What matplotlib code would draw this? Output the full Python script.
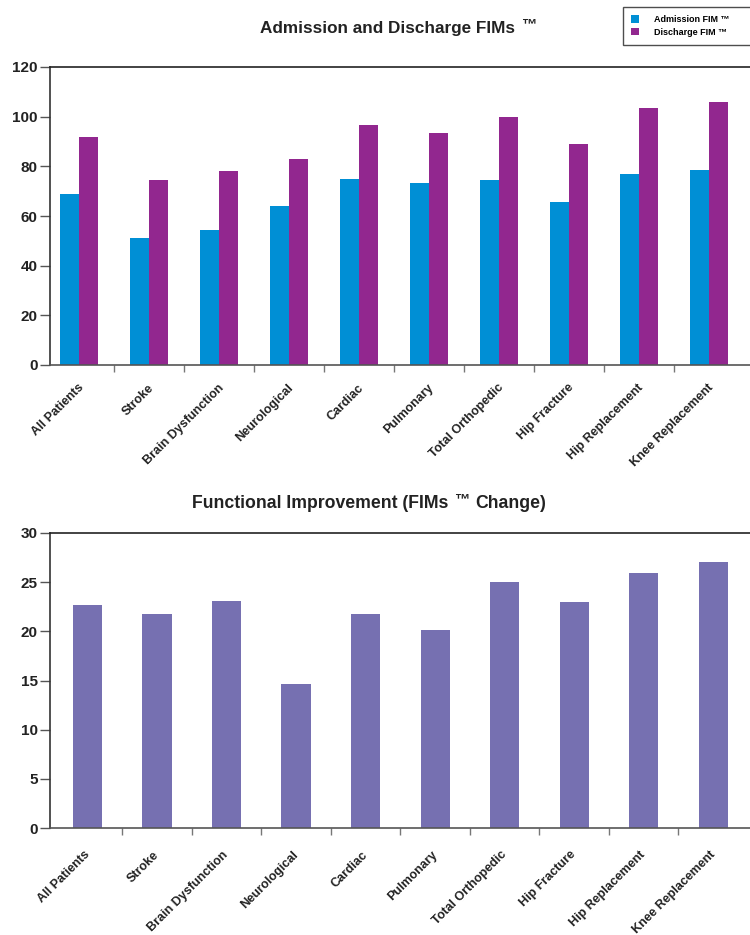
import numpy as np
import matplotlib
matplotlib.use("Agg")
import matplotlib.pyplot as plt

plt.rcParams['font.family'] = ['Liberation Sans', 'DejaVu Sans']
plt.rcParams['font.weight'] = 'bold'

categories = ["All Patients", "Stroke", "Brain Dysfunction", "Neurological", "Cardiac",
              "Pulmonary", "Total Orthopedic", "Hip Fracture", "Hip Replacement", "Knee Replacement"]
admission = [68.8, 51.1, 54.3, 64.0, 74.8, 73.2, 74.4, 65.6, 76.8, 78.4]
discharge = [91.7, 74.4, 78.0, 82.9, 96.5, 93.3, 99.8, 88.9, 103.4, 105.8]
change = [22.7, 21.75, 23.1, 14.65, 21.75, 20.1, 25.0, 22.95, 25.9, 27.1]

blue = '#008fd5'
purple = '#92278f'
lavender = '#7670b1'
x = np.arange(len(categories))

fig = plt.figure(figsize=(7.5, 9.35), dpi=100)

def style(ax, left, right, dx, dy):
    ax.set_xlim(left, right)
    ax.spines['right'].set_visible(False)
    ax.spines['left'].set_color('#333333')
    ax.spines['top'].set_color('#222222')
    ax.spines['bottom'].set_color('#555555')
    for s in ax.spines.values():
        s.set_linewidth(1.2)
    ax.set_xticks(np.arange(0.5, len(categories) - 1, 1.0))
    ax.set_xticklabels([])
    ax.tick_params(axis='x', length=5, width=1, color='#777777', direction='out')
    ax.tick_params(axis='y', length=7, width=1, color='#555555', labelsize=11, pad=2)
    for lab in ax.get_yticklabels():
        lab.set_fontweight('bold')
        lab.set_color('#222222')
    for i, c in enumerate(categories):
        ax.annotate(c, xy=(i, 0), xycoords=('data', 'axes fraction'),
                    xytext=(dx, dy), textcoords='offset points',
                    rotation=45, ha='right', va='top', rotation_mode='anchor',
                    fontsize=9, fontweight='bold', color='#222222')

def title(x0, y0, size, text):
    # main text plus small superscript TM placed after it
    t = fig.text(x0 / 750, 1 - y0 / 935, text[0], ha='left', va='center',
                 fontsize=size, fontweight='bold', color='#222222')
    fig.canvas.draw()
    bb = t.get_window_extent()
    t2 = fig.text((bb.x1 + 6) / 750, 1 - (y0 - 4) / 935, '™', ha='left', va='center',
                  fontsize=11, fontweight='bold', color='#222222')
    if text[1]:
        fig.canvas.draw()
        bb2 = t2.get_window_extent()
        fig.text((bb2.x1 + 6) / 750, 1 - y0 / 935, text[1], ha='left', va='center',
                 fontsize=size, fontweight='bold', color='#222222')

# top chart
ax1 = fig.add_axes([50 / 750, 1 - 365 / 935, 700 / 750, 298 / 935])
w = 0.27
ax1.bar(x - w / 2, admission, w, color=blue, label='Admission FIM ™')
ax1.bar(x + w / 2, discharge, w, color=purple, label='Discharge FIM ™')
ax1.set_ylim(0, 120)
ax1.set_yticks(range(0, 121, 20))
style(ax1, -0.414, 9.586, -1, -12)
leg = fig.legend(loc='upper left', bbox_to_anchor=(623 / 750, 1 - 52 / 935, 135 / 750, 45 / 935),
                 mode='expand', fontsize=6.5, frameon=True, fancybox=False, edgecolor='#222222',
                 handlelength=0.9, handleheight=0.9, borderpad=0.9, labelspacing=0.4,
                 handletextpad=1.6, borderaxespad=0)
leg.get_frame().set_linewidth(1.0)

# bottom chart
ax2 = fig.add_axes([50 / 750, 1 - 828 / 935, 700 / 750, 295 / 935])
ax2.bar(x, change, 0.42, color=lavender)
ax2.set_ylim(0, 30)
ax2.set_yticks(range(0, 31, 5))
style(ax2, -0.54, 9.53, -3, -15)

title(260, 28, 12.3, ('Admission and Discharge FIMs', ''))
title(192, 503, 12.7, ('Functional Improvement (FIMs', 'Change)'))

fig.savefig('out.png', dpi=100)
